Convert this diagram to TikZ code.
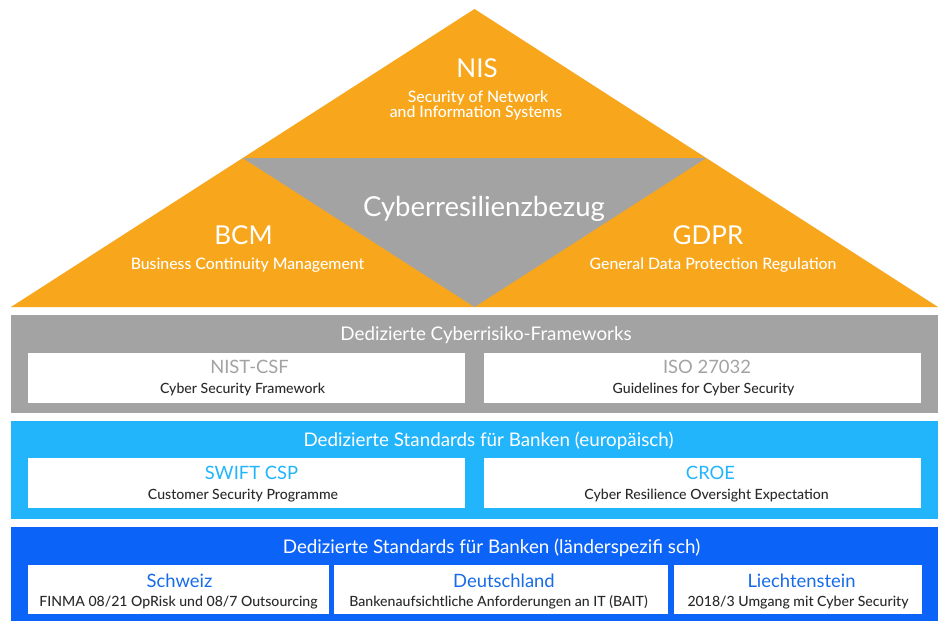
\documentclass[tikz,border=0pt]{standalone}
\usepackage{fontspec}
\setmainfont{Lato}
\newfontfamily\latomed{Lato Medium}
\definecolor{orangeY}{HTML}{F8A71D}
\definecolor{greyM}{HTML}{A3A3A3}
\definecolor{skyB}{HTML}{22B5FC}
\definecolor{deepB}{HTML}{0C63F7}
\definecolor{deepT}{HTML}{166BEA}
\definecolor{inkD}{HTML}{2A2A2A}
\begin{document}
\begin{tikzpicture}[x=1pt,y=-1pt,
  band/.style={fill=#1,draw=none,inner sep=0pt,anchor=north west},
  card/.style={fill=white,draw=none,inner sep=0pt,anchor=north west},
  head/.style={text=white,font=\fontsize{18.8}{20}\selectfont,anchor=base,inner sep=0pt},
  ttl/.style={text=#1,font=\fontsize{18.4}{20}\selectfont,anchor=base,inner sep=0pt},
  sub/.style={text=inkD,font=\latomed\fontsize{14.1}{16}\selectfont,anchor=base,inner sep=0pt},
  big/.style={text=white,font=\fontsize{26}{28}\selectfont,anchor=base,inner sep=0pt},
  wsub/.style={text=white,font=\latomed\fontsize{15.8}{17}\selectfont,anchor=base,inner sep=0pt}]
\useasboundingbox (0,0) rectangle (940,621);
\fill[white] (0,0) rectangle (940,621);

% pyramid and the inverted central triangle
\coordinate (apex) at (474.5,9);
\coordinate (baseL) at (11,307);
\coordinate (baseR) at (938,307);
\fill[orangeY] (baseL) -- (apex) -- (baseR) -- cycle;
\coordinate (midL) at (242.75,158);
\coordinate (midR) at (706.25,158);
\coordinate (midB) at (474.5,307);
\fill[greyM] (midL) -- (midR) -- (midB) -- cycle;

\node[big] (nis) at (477,77) {NIS};
\node[wsub] (nisA) at (478,102.5) {Security of Network};
\node[wsub] (nisB) at (476,117) {and Information Systems};
\node[big,font=\fontsize{27.5}{29}\selectfont] (cyber) at (484,216) {Cyberresilienzbezug};
\node[big] (bcm) at (243.5,244.5) {BCM};
\node[wsub] (bcmS) at (247.5,269) {Business Continuity Management};
\node[big] (gdpr) at (708,244.5) {GDPR};
\node[wsub] (gdprS) at (713,269) {General Data Protection Regulation};

% horizontal bands
\node[band=greyM,minimum width=927pt,minimum height=98pt] (bandA) at (11,315) {};
\node[band=skyB,minimum width=927pt,minimum height=98pt] (bandB) at (11,421) {};
\node[band=deepB,minimum width=927pt,minimum height=94pt] (bandC) at (11,527) {};

\node[head] (headA) at (486,340.5) {Dedizierte Cyberrisiko-Frameworks};
\node[head] (headB) at (488.5,446.5) {Dedizierte Standards für Banken (europäisch)};
\node[head] (headC) at (491.5,553) {Dedizierte Standards für Banken (länderspezifi sch)};

% white cards
\node[card,minimum width=437pt,minimum height=50pt] (cA1) at (28,353) {};
\node[card,minimum width=437pt,minimum height=50pt] (cA2) at (484,353) {};
\node[card,minimum width=437pt,minimum height=50pt] (cB1) at (28,458) {};
\node[card,minimum width=437pt,minimum height=50pt] (cB2) at (484,458) {};
\node[card,minimum width=301pt,minimum height=49pt] (cC1) at (28,565) {};
\node[card,minimum width=334pt,minimum height=49pt] (cC2) at (334,565) {};
\node[card,minimum width=248pt,minimum height=49pt] (cC3) at (674,565) {};

\node[ttl=greyM] (tA1) at (249.5,373) {NIST-CSF};
\node[sub] (sA1) at (242.5,393) {Cyber Security Framework};
\node[ttl=greyM] (tA2) at (707,373) {ISO 27032};
\node[sub] (sA2) at (703.5,393) {Guidelines for Cyber Security};

\node[ttl=skyB] (tB1) at (251.5,479.5) {SWIFT CSP};
\node[sub] (sB1) at (243,499) {Customer Security Programme};
\node[ttl=skyB] (tB2) at (710.5,479.5) {CROE};
\node[sub] (sB2) at (706.5,499) {Cyber Resilience Oversight Expectation};

\node[ttl=deepT] (tC1) at (179.5,587) {Schweiz};
\node[sub] (sC1) at (178.5,606.5) {FINMA 08/21 OpRisk und 08/7 Outsourcing};
\node[ttl=deepT] (tC2) at (504,587) {Deutschland};
\node[sub] (sC2) at (498.5,606.5) {Bankenaufsichtliche Anforderungen an IT (BAIT)};
\node[ttl=deepT] (tC3) at (801.5,587) {Liechtenstein};
\node[sub] (sC3) at (798,606.5) {2018/3 Umgang mit Cyber Security};
\end{tikzpicture}
\end{document}
